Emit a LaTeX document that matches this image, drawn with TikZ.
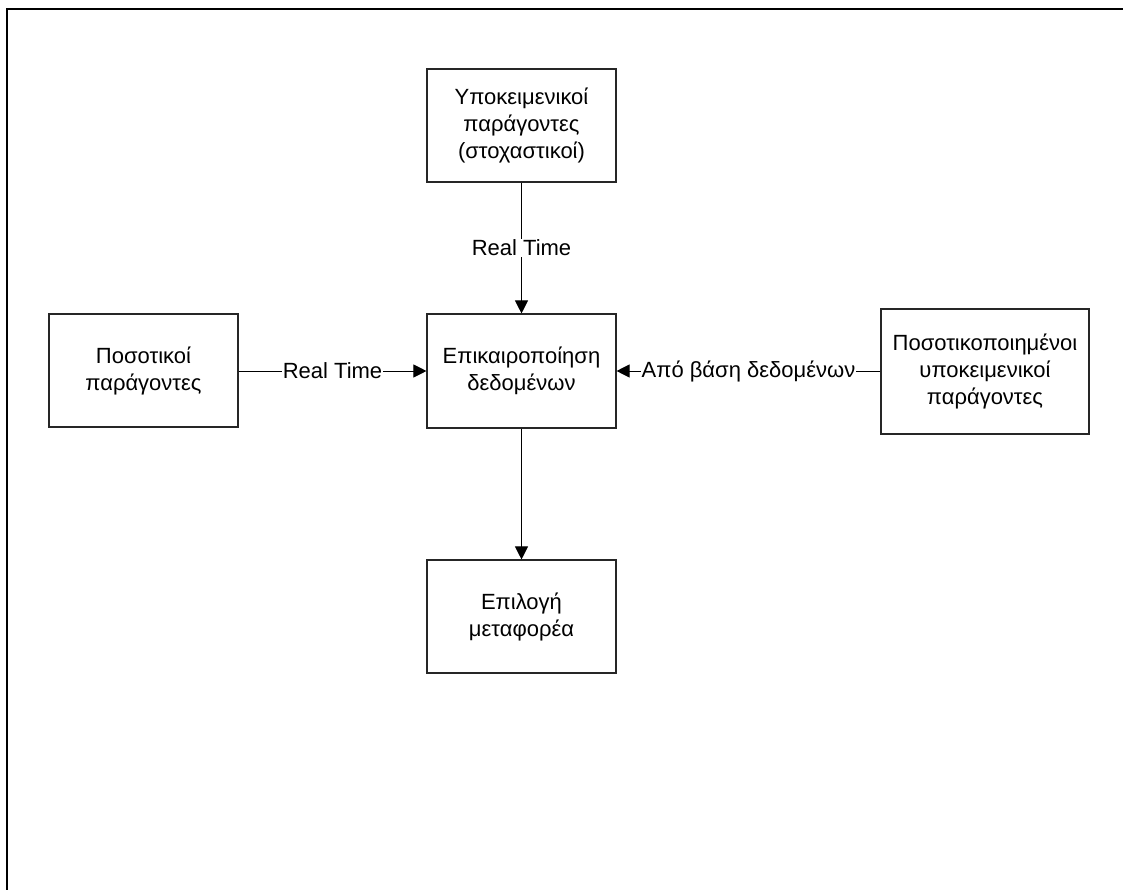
\documentclass[tikz,border=0pt]{standalone}
\usepackage{fontspec}
\setmainfont{Liberation Sans}
\usetikzlibrary{arrows.meta}
\begin{document}
\begin{tikzpicture}[x=1pt,y=-1pt,
  blk/.style={draw=black!85, line width=1.1pt, fill=white, align=center, minimum width=189pt, minimum height=113pt, inner sep=0pt, font=\fontsize{22}{27}\selectfont},
  conn/.style={draw=black, line width=1pt, -{Triangle[length=13pt,width=13pt]}},
  lbl/.style={fill=white, inner sep=1pt, font=\fontsize{22}{27}\selectfont}]
\useasboundingbox (0,0) rectangle (1123,890);
\fill[white] (0,0) rectangle (1123,890);
\draw[line width=2.4pt] (7,890) -- (7,9) -- (1123,9);
\node[blk] (subj) at (521.5,125.5) {Υποκειμενικοί\\παράγοντες\\(στοχαστικοί)};
\node[blk] (quant) at (143.5,370.5) {Ποσοτικοί\\παράγοντες};
\node[blk, minimum height=114pt] (upd) at (521.5,371) {Επικαιροποίηση\\δεδομένων};
\node[blk, minimum width=208pt, minimum height=125pt] (qsubj) at (985,371.5) {Ποσοτικοποιημένοι\\υποκειμενικοί\\παράγοντες};
\node[blk] (sel) at (521.5,616.5) {Επιλογή\\μεταφορέα};
\draw[conn] (subj) -- node[lbl] {Real Time} (upd);
\draw[conn] (quant.east |- upd) -- node[lbl] {Real Time} (upd.west);
\draw[conn] (qsubj.west |- upd) -- node[lbl] {Από βάση δεδομένων} (upd.east);
\draw[conn] (upd) -- (sel);
\end{tikzpicture}
\end{document}
